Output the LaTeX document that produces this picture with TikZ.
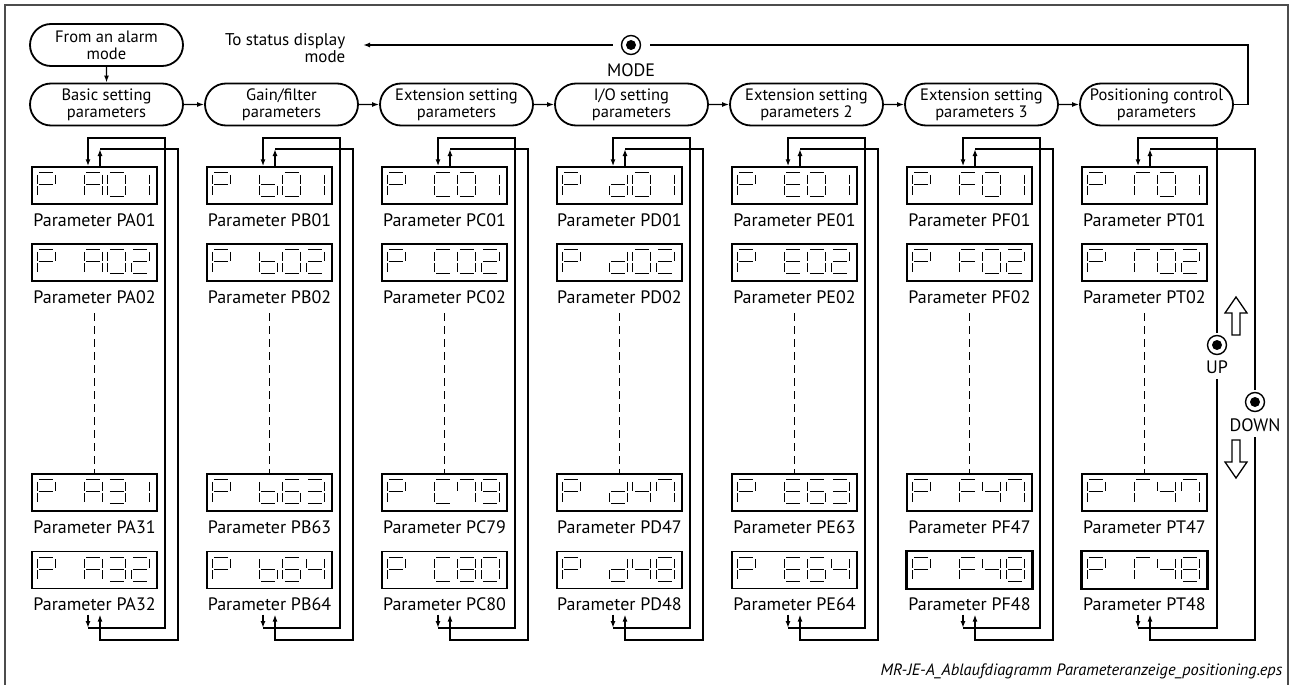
\documentclass[tikz,border=0pt]{standalone}
\usepackage{fontspec}
\setmainfont{PT Sans}
\usepackage{tikz}
\usetikzlibrary{arrows.meta, positioning, shapes.misc}

% seven-segment pieces, one cell is 18 x 24
\def\sga{\draw[segline] (2,0) -- (16,0);}
\def\sgb{\draw[segline] (18,2) -- (18,11);}
\def\sgc{\draw[segline] (18,13) -- (18,22);}
\def\sgd{\draw[segline] (2,24) -- (16,24);}
\def\sge{\draw[segline] (0,13) -- (0,22);}
\def\sgf{\draw[segline] (0,2) -- (0,11);}
\def\sgg{\draw[segline] (2,12) -- (16,12);}

% glyphs
\def\ssdP{a,b,e,f,g}
\def\ssdA{a,b,c,e,f,g}
\def\ssdb{c,d,e,f,g}
\def\ssdC{a,d,e,f}
\def\ssdd{b,c,d,e,g}
\def\ssdE{a,d,e,f,g}
\def\ssdF{a,e,f,g}
\def\ssdT{a,e,f}
\expandafter\def\csname ssd0\endcsname{a,b,c,d,e,f}
\expandafter\def\csname ssd1\endcsname{b,c}
\expandafter\def\csname ssd2\endcsname{a,b,d,e,g}
\expandafter\def\csname ssd3\endcsname{a,b,c,d,g}
\expandafter\def\csname ssd4\endcsname{b,c,f,g}
\expandafter\def\csname ssd6\endcsname{a,c,d,e,f,g}
\expandafter\def\csname ssd7\endcsname{a,b,c,f}
\expandafter\def\csname ssd8\endcsname{a,b,c,d,e,f,g}
\expandafter\def\csname ssd9\endcsname{a,b,c,d,f,g}

% #1 display node, #2 list slot/char
\newcommand\ssdisp[2]{%
  \foreach \sl/\ch in {#2} {%
    \begin{scope}[shift={(#1.north west)}, shift={({6+23.5*(\sl-1)},6.5)}]
      \edef\seglist{\csname ssd\ch\endcsname}
      \foreach \s in \seglist {\csname sg\s\endcsname}
    \end{scope}}}

\begin{document}
\begin{tikzpicture}[x=1pt, y=-1pt, line width=1.4pt,
  font=\fontsize{16.5}{17}\selectfont,
  grp/.style={draw, rounded rectangle, line width=1.8pt, minimum width=153pt,
    minimum height=42pt, inner sep=0pt, align=center},
  dispbox/.style={draw, rectangle, minimum width=125pt, minimum height=37pt, inner sep=0pt},
  segline/.style={line width=1.3pt},
  lbl/.style={inner sep=3pt, font=\fontsize{18}{19}\selectfont},
  flow/.style={-{Latex[length=7pt,width=5pt]}},
  skip/.style={dash pattern=on 8pt off 5pt, shorten <=6pt},
  btn/.style={draw, circle, minimum size=19pt, inner sep=0pt, outer sep=3pt,
    path picture={\fill (path picture bounding box.center) circle (5pt);}}]
  \useasboundingbox (0,0) rectangle (1291,685);
  \draw[black!70, line width=1.2pt] (5,685) -- (5,5) -- (1288,5) -- (1288,685);

  \node[grp] (alarm) at (106.5,45) {From an alarm\\mode};

  % one column per parameter group
  \foreach \k/\gl/\lt/\da/\db/\dc/\dd/\txt in {
      0/A/A/3/1/3/2/{Basic setting\\parameters},
      1/b/B/6/3/6/4/{Gain/filter\\parameters},
      2/C/C/7/9/8/0/{Extension setting\\parameters},
      3/d/D/4/7/4/8/{I/O setting\\parameters},
      4/E/E/6/3/6/4/{Extension setting\\parameters 2},
      5/F/F/4/7/4/8/{Extension setting\\parameters 3},
      6/T/T/4/7/4/8/{Positioning control\\parameters}} {
    \pgfmathsetmacro\cx{94.5+175*\k}
    \node[grp] (g\k) at (\cx+12,104.5) {\txt};
    \node[dispbox] (b\k1) at (\cx,185.5) {};
    \node[dispbox] (b\k2) at (\cx,262.5) {};
    \node[dispbox] (b\k3) at (\cx,492.5) {};
    \node[dispbox] (b\k4) at (\cx,570) {};
    \node[lbl, below=5pt of b\k1] (l\k1) {Parameter P\lt01};
    \node[lbl, below=5pt of b\k2] (l\k2) {Parameter P\lt02};
    \node[lbl, below=5pt of b\k3] (l\k3) {Parameter P\lt\da\db};
    \node[lbl, below=5pt of b\k4] (l\k4) {Parameter P\lt\dc\dd};
    \ssdisp{b\k1}{1/P,3/\gl,4/0,5/1}
    \ssdisp{b\k2}{1/P,3/\gl,4/0,5/2}
    \ssdisp{b\k3}{1/P,3/\gl,4/\da,5/\db}
    \ssdisp{b\k4}{1/P,3/\gl,4/\dc,5/\dd}
    \draw[skip] (l\k2) -- (b\k3);
    \coordinate (dnb\k) at (\cx-6.5,628);
    \coordinate (dnt\k) at (\cx-6.5,138);
    \coordinate (upb\k) at (\cx+5.5,640);
    \coordinate (upt\k) at (\cx+5.5,149);
  }
  \draw[line width=2.4pt] (b54.north west) rectangle (b54.south east);
  \draw[line width=2.4pt] (b64.north west) rectangle (b64.south east);

  \draw[flow] (alarm) -- (g0);
  \foreach \k [count=\n from 1] in {0,...,5}
    \draw[flow] (g\k) -- (g\n);

  % MODE
  \node[btn, outer sep=9pt] (mode) at (631,45) {};
  \node[lbl] (modelbl) at (631,70) {MODE};
  \node[inner sep=3pt, align=right, anchor=east, font=\fontsize{17}{17}\selectfont]
    (status) at (349,48) {To status display\\mode};
  \draw (g6.east) -- ++(14,0) |- (mode);
  \draw[flow, shorten >=14pt] (mode) -- (mode -| status.east);

  % UP / DOWN loops
  \foreach \k in {0,...,5} {
    \draw[flow] (l\k4.south -| dnb\k) -- (dnb\k);
    \draw[flow] (dnb\k) -- ++(77,0) |- (dnt\k) -- (b\k1.north -| dnt\k);
    \draw[flow] (b\k1.north -| upt\k) -- (upt\k);
    \draw[flow] (upt\k) -- ++(78,0) |- (upb\k) -- (l\k4.south -| upb\k);
  }
  \node[btn] (upbtn) at (1217,345) {};
  \node[lbl, inner ysep=5pt] (uplbl) at (1217,367) {UP};
  \node[btn] (dnbtn) at (1255,402) {};
  \node[lbl, inner ysep=5pt] (dnlbl) at (1255,425) {DOWN};
  \draw[flow] (l64.south -| dnb6) -- (dnb6);
  \draw (dnb6) -| (uplbl);
  \draw[flow] (upbtn) |- (dnt6) -- (b61.north -| dnt6);
  \draw[flow] (b61.north -| upt6) -- (upt6);
  \draw (upt6) -| (dnbtn);
  \draw[flow] (dnlbl) |- (upb6) -- (l64.south -| upb6);

  % hollow arrows
  \draw[line width=1.3pt] (1232,335) -- (1232,313) -- (1225,313) -- (1236,297)
    -- (1247,313) -- (1240,313) -- (1240,335) -- cycle;
  \draw[line width=1.3pt] (1232,440) -- (1232,462) -- (1225,462) -- (1236,478)
    -- (1247,462) -- (1240,462) -- (1240,440) -- cycle;

  \node[anchor=east, inner sep=0pt, font=\fontsize{16.4}{17}\selectfont\itshape] (fname) at (1283,671)
    {MR-JE-A\_Ablaufdiagramm Parameteranzeige\_positioning.eps};
\end{tikzpicture}
\end{document}
